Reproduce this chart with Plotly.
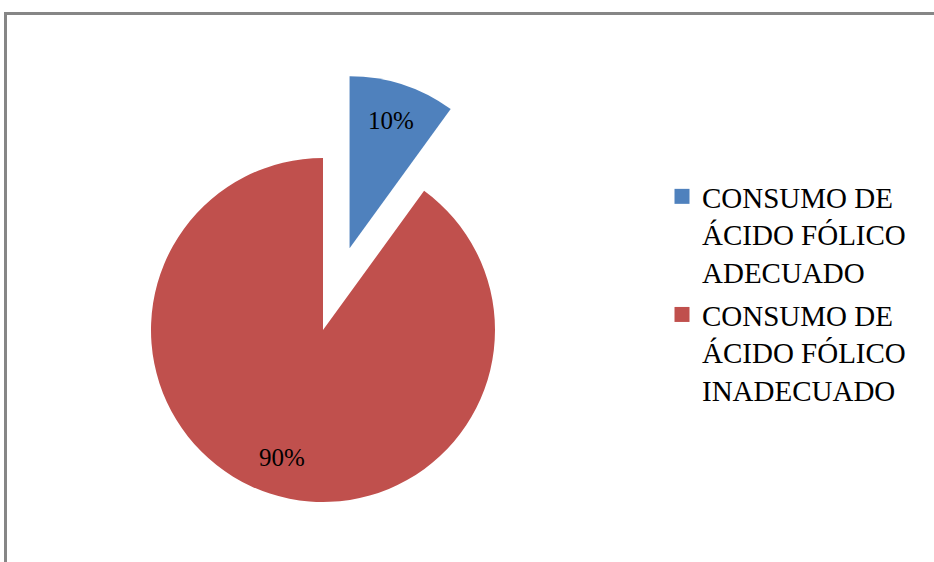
import math
import plotly.graph_objects as go

# Data
categories = [
    "CONSUMO DE<br>ÁCIDO FÓLICO<br>ADECUADO",
    "CONSUMO DE<br>ÁCIDO FÓLICO<br>INADECUADO",
]
percentages = [10, 90]
colors = ["#4F81BD", "#C0504D"]

# Layout geometry (pixels)
W, H = 934, 562
CX, CY, R = 323, 330, 172
PULL = 0.5            # explode distance of the first slice, as a fraction of R
LABEL_R = 0.78        # radial position of the percentage labels
SERIF = "Liberation Serif, Times New Roman, serif"
CLEAR = "rgba(0,0,0,0)"


def domain(cx, cy, r):
    return dict(x=[(cx - r) / W, (cx + r) / W],
                y=[1 - (cy + r) / H, 1 - (cy - r) / H])


total = sum(percentages)
mids = []
acc = 0
for v in percentages:
    mids.append((acc + v / 2) / total * 2 * math.pi)
    acc += v

# exploded slice is drawn as its own pie, shifted along its mid-angle
bx = CX + PULL * R * math.sin(mids[0])
by = CY - PULL * R * math.cos(mids[0])
centers = [(bx, by), (CX, CY)]

fig = go.Figure()
for i, (cx, cy) in enumerate(centers):
    slice_colors = [c if j == i else CLEAR for j, c in enumerate(colors)]
    fig.add_trace(go.Pie(
        labels=categories,
        values=percentages,
        marker=dict(colors=slice_colors, line=dict(width=0)),
        sort=False,
        direction="clockwise",
        rotation=0,
        textinfo="none",
        hoverinfo="skip",
        showlegend=False,
        domain=domain(cx, cy, R),
    ))

# legend entries
for name, c in zip(categories, colors):
    fig.add_trace(go.Scatter(
        x=[None], y=[None], mode="markers", name=name,
        marker=dict(symbol="square", size=15, color=c),
        legendgroup=name,
    ))

# percentage labels
annotations = []
for i, (cx, cy) in enumerate(centers):
    px = cx + LABEL_R * R * math.sin(mids[i])
    py = cy - LABEL_R * R * math.cos(mids[i])
    annotations.append(dict(
        x=px / W, y=1 - py / H, xref="paper", yref="paper",
        xanchor="center", yanchor="middle",
        text=f"{percentages[i]}%", showarrow=False,
        font=dict(family=SERIF, size=25, color="black"),
    ))

# chart frame (left and top edges)
frame = dict(color="#868686", width=3)
shapes = [
    dict(type="line", xref="paper", yref="paper",
         x0=5.5 / W, x1=5.5 / W, y0=0, y1=1 - 13.5 / H, line=frame),
    dict(type="line", xref="paper", yref="paper",
         x0=4 / W, x1=1, y0=1 - 13.5 / H, y1=1 - 13.5 / H, line=frame),
]

fig.update_layout(
    width=W, height=H,
    margin=dict(l=0, r=0, t=0, b=0),
    paper_bgcolor="white", plot_bgcolor="white",
    xaxis=dict(visible=False), yaxis=dict(visible=False),
    showlegend=True,
    legend=dict(
        x=662 / W, y=1 - 171 / H, xanchor="left", yanchor="top",
        valign="top",
        font=dict(family=SERIF, size=29, color="black"),
        tracegroupgap=2, bgcolor="rgba(0,0,0,0)",
    ),
    annotations=annotations,
    shapes=shapes,
)

fig.write_html("out.html")
